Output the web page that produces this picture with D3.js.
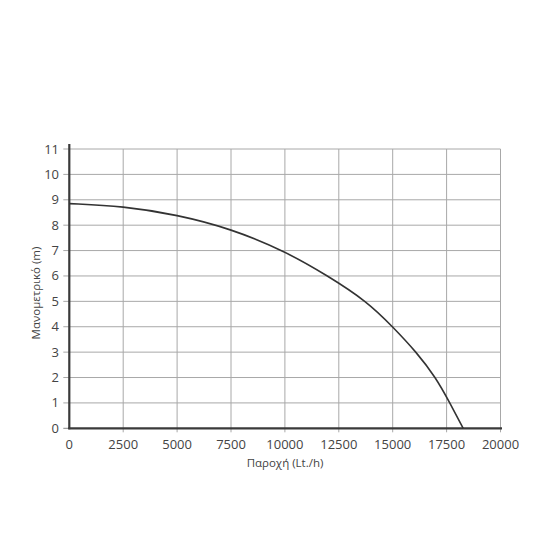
<!DOCTYPE html>
<html>
<head>
<meta charset="utf-8">
<script src="https://cdn.jsdelivr.net/npm/d3@7"></script>
<style>
html,body{margin:0;padding:0;background:#fff;}
svg{display:block;}
text{font-family:"Open Sans",sans-serif;fill:#444;}
</style>
</head>
<body>
<svg id="chart" width="550" height="550"></svg>
<script>
const flow = [0, 2500, 5000, 7500, 10000, 12000, 13800, 15000, 16100, 17000, 17650, 18270];
const head = [8.85, 8.75, 8.41, 7.86, 6.98, 6.0, 5.0, 4.0, 3.0, 2.0, 1.0, 0];
const xTicks = [0, 2500, 5000, 7500, 10000, 12500, 15000, 17500, 20000];
const yTicks = [0, 1, 2, 3, 4, 5, 6, 7, 8, 9, 10, 11];
const xTitle = "Παροχή (Lt./h)";
const yTitle = "Μανομετρικό  (m)";

const svg = d3.select("#chart");
const x = d3.scaleLinear().domain([0, 20000]).range([69.3, 500.5]);
const y = d3.scaleLinear().domain([0, 11]).range([428.3, 149]);

// grid
const g = svg.append("g");
g.selectAll("line.vg").data(xTicks.slice(1)).enter().append("line")
  .attr("x1", d => x(d)).attr("x2", d => x(d))
  .attr("y1", y(11)).attr("y2", y(0) + 4)
  .attr("stroke", "#a8a8a8").attr("stroke-width", 1);
g.selectAll("line.hg").data(yTicks.slice(1)).enter().append("line")
  .attr("x1", x(0) - 6).attr("x2", x(20000))
  .attr("y1", d => y(d)).attr("y2", d => y(d))
  .attr("stroke", "#a8a8a8").attr("stroke-width", 1);
g.append("line").attr("x1", x(0) - 6).attr("x2", x(0)).attr("y1", y(0)).attr("y2", y(0))
  .attr("stroke", "#888").attr("stroke-width", 1);

// tick labels
svg.selectAll("text.yt").data(yTicks).enter().append("text")
  .attr("x", 59).attr("y", d => y(d) + 4.5)
  .attr("text-anchor", "end").attr("font-size", 13).text(d => d);
svg.selectAll("text.xt").data(xTicks).enter().append("text")
  .attr("x", d => x(d)).attr("y", 449)
  .attr("text-anchor", "middle").attr("font-size", 13).text(d => d);

// axis lines
svg.append("line").attr("x1", x(0)).attr("x2", x(0)).attr("y1", 144).attr("y2", y(0) + 1)
  .attr("stroke", "#3a3a3a").attr("stroke-width", 2.2);
svg.append("line").attr("x1", x(0) - 1).attr("x2", 502).attr("y1", y(0)).attr("y2", y(0))
  .attr("stroke", "#3a3a3a").attr("stroke-width", 2.2);

// curve
const line = d3.line().x((d, i) => x(flow[i])).y(d => y(d)).curve(d3.curveBasis);
svg.append("path").datum(head).attr("d", line)
  .attr("fill", "none").attr("stroke", "#333").attr("stroke-width", 1.6);

// titles
svg.append("text").attr("x", 285).attr("y", 467).attr("text-anchor", "middle")
  .attr("font-size", 11.5).text(xTitle);
svg.append("text").attr("transform", "translate(40,293) rotate(-90)")
  .attr("text-anchor", "middle").attr("font-size", 11.5).text(yTitle);
</script>
</body>
</html>
